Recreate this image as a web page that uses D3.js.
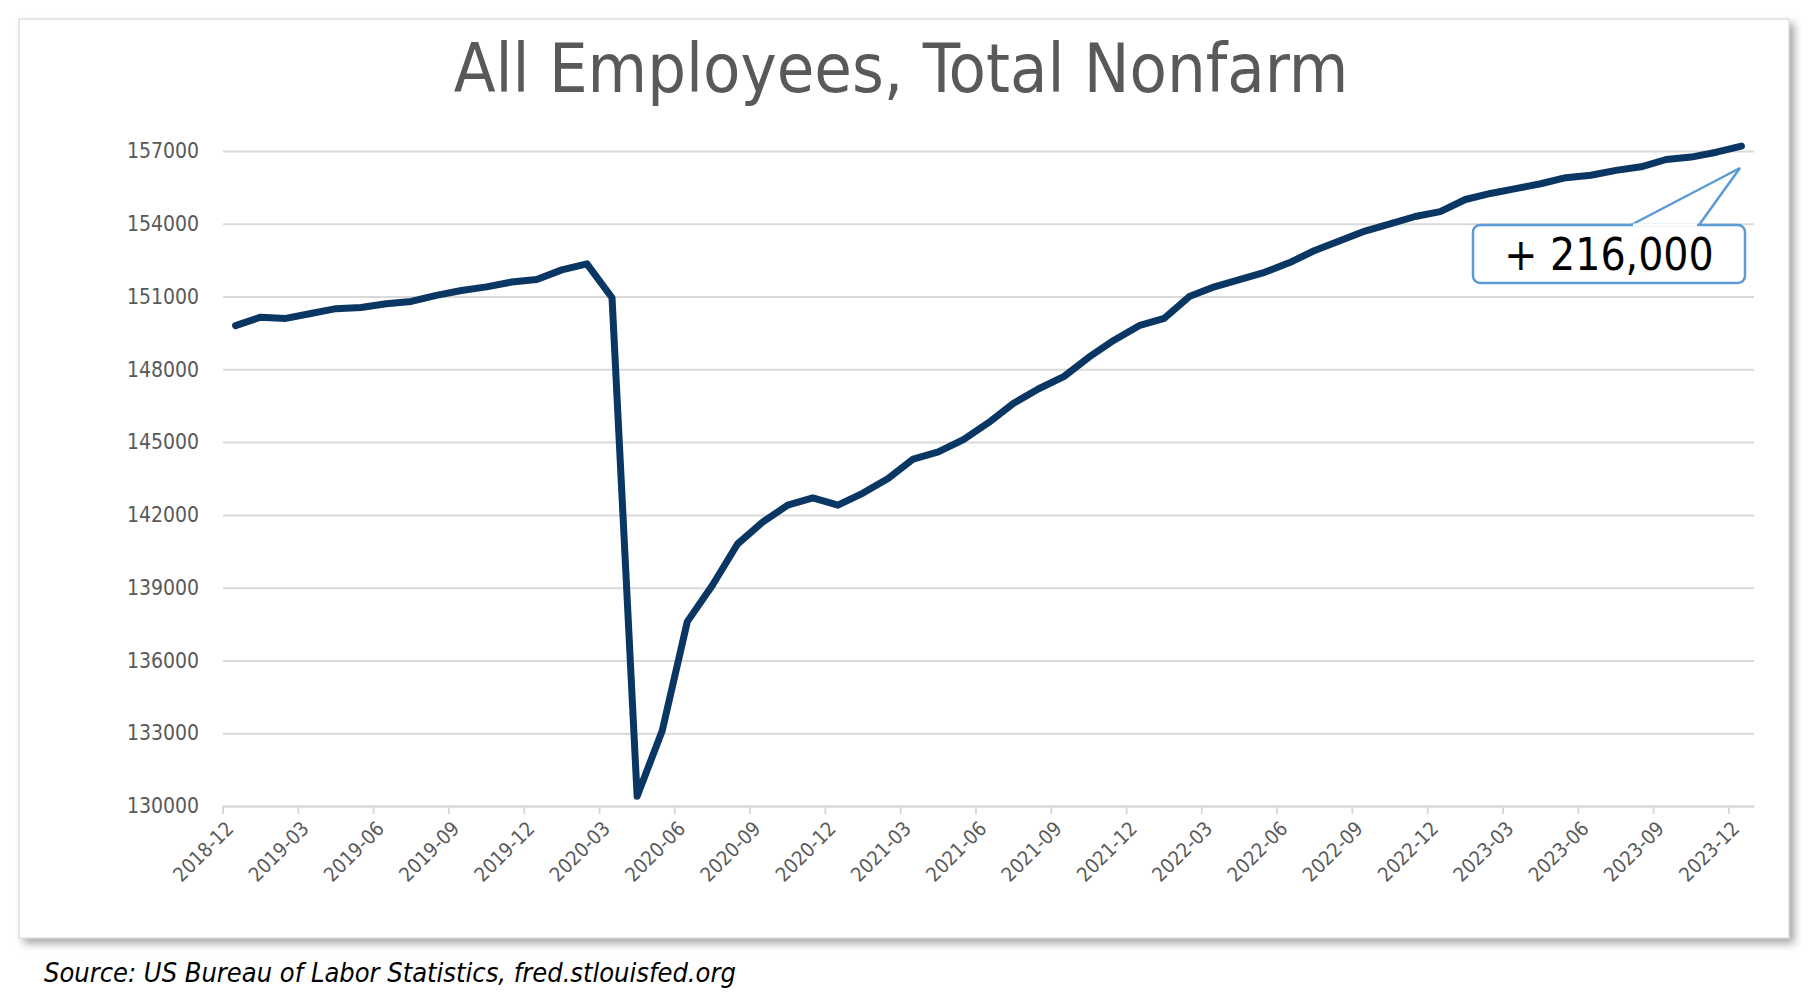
<!DOCTYPE html><html><head><meta charset="utf-8"><script src="https://cdn.jsdelivr.net/npm/d3@7"></script>
<style>body{margin:0;background:#fff}svg{display:block}</style></head><body>
<script>
const months=[];for(let y=2018,m=12;y<2024;){months.push(y+"-"+String(m).padStart(2,"0"));m++;if(m>12){m=1;y++;}if(y===2024)break;}
const values=[149800,
150150,150100,150300,150500,150550,150700,150800,151050,151250,151400,151600,151700,
152100,152350,150950,130400,133100,137600,139100,140800,141700,142400,142700,142400,
142900,143500,144300,144600,145100,145800,146600,147200,147700,148500,149200,149800,
150100,151000,151400,151700,152000,152400,152900,153300,153700,154000,154300,154500,
155000,155250,155450,155650,155900,156000,156200,156350,156650,156750,156950,157200];
const yTicks=[130000,133000,136000,139000,142000,145000,148000,151000,154000,157000];
const tickMonths=months.filter((d,i)=>i%3===0);
const W=1812,H=1000;
const svg=d3.select("body").append("svg").attr("width",W).attr("height",H);
const defs=svg.append("defs");
const f=defs.append("filter").attr("id","sh").attr("x","-5%").attr("y","-5%").attr("width","110%").attr("height","110%");
f.append("feDropShadow").attr("dx",5).attr("dy",5).attr("stdDeviation",4).attr("flood-color","#000").attr("flood-opacity",0.35);
svg.append("rect").attr("x",19).attr("y",19).attr("width",1770).attr("height",919).attr("fill","#fff").attr("stroke","#d0d0d0").attr("filter","url(#sh)");
const x=d3.scaleBand().domain(months).range([223,1754]);
const y=d3.scaleLinear().domain([130000,157000]).range([806,151]);
svg.append("text").attr("x",901).attr("y",92).attr("text-anchor","middle").attr("font-family","DejaVu Sans Condensed, DejaVu Sans").attr("font-size",68).attr("fill","#595959").text("All Employees, Total Nonfarm");
const gy=svg.append("g").attr("transform","translate(223,0)").call(d3.axisLeft(y).tickValues(yTicks).tickSize(-1531).tickFormat(d3.format("d")));
gy.select(".domain").remove();
gy.selectAll(".tick line").attr("stroke","#d9d9d9").attr("stroke-width",2);
gy.selectAll(".tick text").attr("x",-24).attr("font-family","DejaVu Sans Condensed, DejaVu Sans").attr("font-size",21).attr("fill","#595959");
const gx=svg.append("g").attr("transform","translate(0,806)").call(d3.axisBottom(x).tickValues(tickMonths).tickSize(8).tickSizeOuter(0));
gx.selectAll(".tick").attr("transform",d=>`translate(${x(d)},0)`);
gx.select(".domain").attr("stroke","#d9d9d9").attr("stroke-width",2);
gx.selectAll(".tick line").attr("stroke","#d9d9d9").attr("stroke-width",2);
gx.selectAll(".tick text").attr("font-family","DejaVu Sans Condensed, DejaVu Sans").attr("font-size",20).attr("fill","#595959")
 .attr("text-anchor","end").attr("dx",0).attr("dy",0).attr("transform","translate(4,16) rotate(-45)");
const line=d3.line().x((d,i)=>x(months[i])+x.bandwidth()/2).y(d=>y(d));
svg.append("path").datum(values).attr("d",line).attr("fill","none").attr("stroke","#0a3663").attr("stroke-width",7).attr("stroke-linejoin","round").attr("stroke-linecap","round");
// callout
svg.append("path").attr("d","M1631,225 L1740,168 L1699,225").attr("fill","#fff").attr("stroke","#5b9bd5").attr("stroke-width",2.5);
svg.append("rect").attr("x",1473).attr("y",225).attr("width",272).attr("height",58).attr("rx",7).attr("fill","#fff").attr("stroke","#5b9bd5").attr("stroke-width",2.5);
svg.append("line").attr("x1",1633).attr("x2",1697).attr("y1",225).attr("y2",225).attr("stroke","#fff").attr("stroke-width",3);
svg.append("text").attr("x",1609).attr("y",270).attr("text-anchor","middle").attr("font-family","DejaVu Sans Condensed, DejaVu Sans").attr("font-size",44).attr("fill","#000").text("+ 216,000");
svg.append("text").attr("x",44).attr("y",982).attr("font-family","DejaVu Sans Condensed, DejaVu Sans").attr("font-style","italic").attr("font-size",27).attr("fill","#000").text("Source: US Bureau of Labor Statistics, fred.stlouisfed.org");
</script></body></html>
